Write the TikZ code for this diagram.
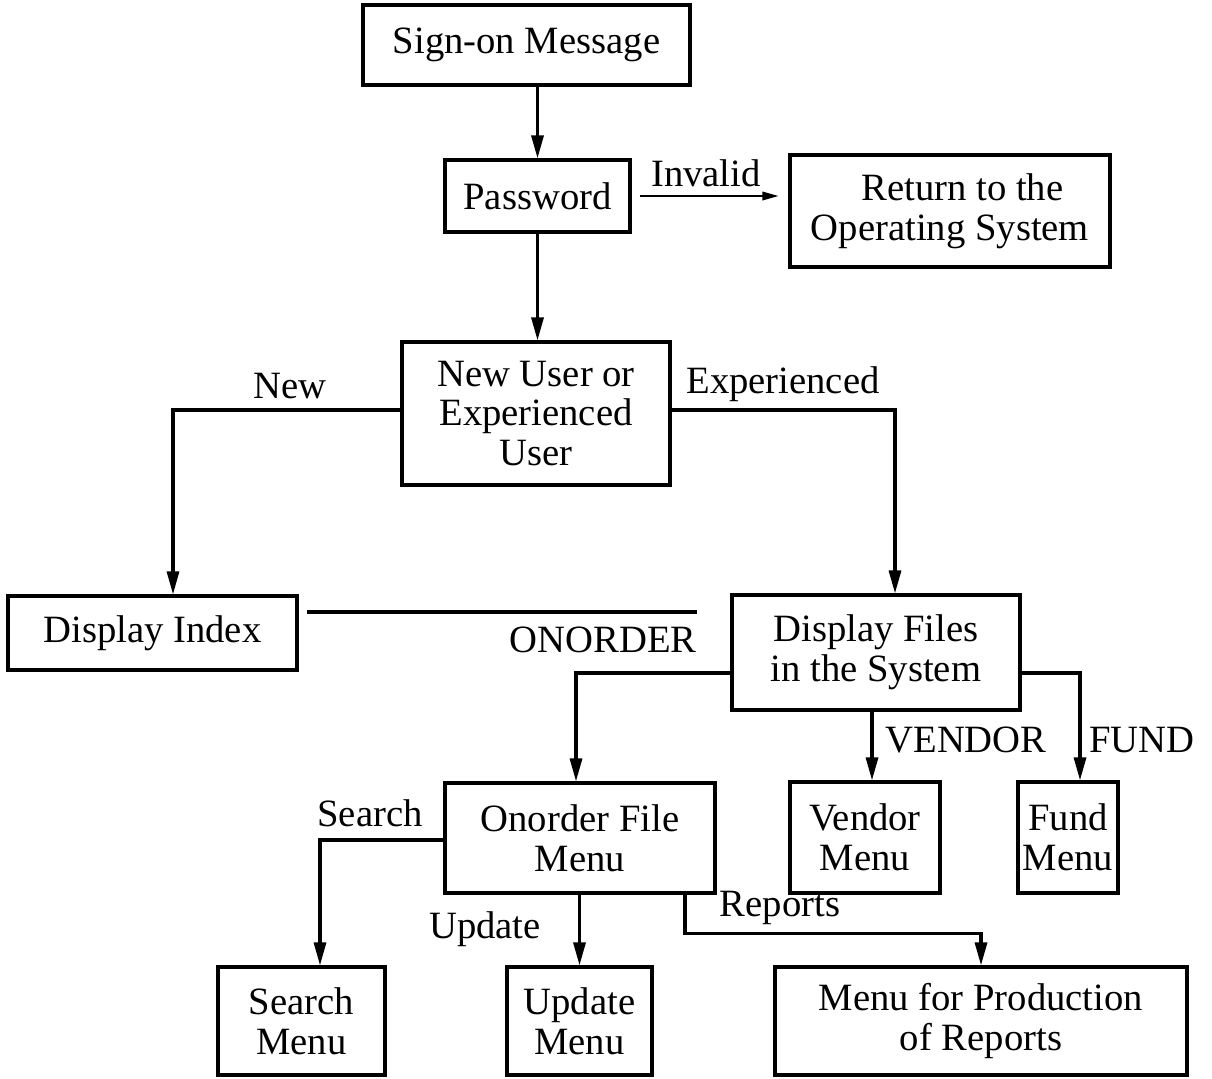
\documentclass[tikz,border=0pt]{standalone}
\usepackage{fontspec}
\setmainfont{Liberation Serif}
\usetikzlibrary{arrows.meta,calc}
\begin{document}
\begin{tikzpicture}[x=0.02cm,y=-0.02cm,
  box/.style={draw,line width=1.8pt,align=center,inner sep=0pt,font=\fontsize{22}{22.5}\selectfont},
  lbl/.style={font=\fontsize{22}{22.5}\selectfont,inner sep=0pt},
  ln/.style={line width=1.8pt},
  arr/.style={line width=1.8pt,-{Triangle[length=0.46cm,width=0.24cm]}},
  thinarr/.style={line width=1pt,-{Triangle[length=0.32cm,width=0.17cm]}}]
\useasboundingbox (0,0) rectangle (1212,1078);
% boxes
\node[box,minimum width=6.54cm,minimum height=1.6cm] (sign) at (526.5,45) {Sign-on Message};
\node[box,minimum width=3.7cm,minimum height=1.44cm] (pass) at (537.5,196) {Password};
\node[box,minimum width=6.4cm,minimum height=2.24cm] (ret) at (950,211) {\hspace*{0.5cm}Return to the\\Operating System};
\node[box,minimum width=5.36cm,minimum height=2.86cm] (user) at (536,413.5) {New User or\\Experienced\\User};
\node[box,minimum width=5.78cm,minimum height=1.48cm] (idx) at (152.5,633) {Display Index};
\node[box,minimum width=5.76cm,minimum height=2.3cm] (files) at (876,652.5) {Display Files\\in the System};
\node[box,minimum width=5.4cm,minimum height=2.2cm] (onord) at (580,838) {Onorder File\\Menu};
\node[box,minimum width=3.0cm,minimum height=2.22cm] (vend) at (865,837.5) {Vendor\\Menu};
\node[box,minimum width=2.0cm,minimum height=2.22cm] (fund) at (1068,837.5) {Fund\\Menu};
\node[box,minimum width=3.34cm,minimum height=2.16cm] (search) at (301.5,1021) {Search\\Menu};
\node[box,minimum width=2.9cm,minimum height=2.16cm] (upd) at (579.5,1021) {Update\\Menu};
\node[box,minimum width=8.24cm,minimum height=2.16cm] (rep) at (981,1021) {Menu for Production\\of Reports};
% connectors
\draw[arr] (sign.south -| pass.north) -- (pass.north);
\draw[thinarr] ([xshift=0.16cm]pass.east) -- ([xshift=-0.2cm]ret.west |- pass.east);
\draw[arr] (pass.south) -- (pass.south |- user.north);
\draw[arr] ([yshift=0.07cm]user.west) -| ([xshift=0.41cm]idx.north);
\draw[arr] ([yshift=0.07cm]user.east) -| ([xshift=0.38cm]files.north);
\draw[ln] ([shift={(8,-21)}]idx.east) -- ++(390,0);
\draw[arr] ([yshift=-0.41cm]files.west) -| ([xshift=-0.08cm]onord.north);
\draw[arr] ([xshift=-0.08cm]files.south) -- ([xshift=-0.08cm]files.south |- vend.north);
\draw[arr] ([yshift=-0.41cm]files.east) -| ([xshift=0.24cm]fund.north);
\draw[arr] ([yshift=-0.04cm]onord.west) -| ([xshift=0.37cm]search.north);
\draw[arr] (onord.south -| upd.north) -- (upd.north);
\draw[arr] ([xshift=2.1cm]onord.south) -- ++(0,39) -| (rep.north);
% labels
\node[lbl] (linv) at (706,173) {Invalid};
\node[lbl] (lnew) at (290,386) {New};
\node[lbl] (lexp) at (783,384) {Experienced};
\node[lbl] (lono) at (603,640) {ONORDER};
\node[lbl] (lven) at (966,740) {VENDOR};
\node[lbl] (lfun) at (1142,740) {FUND};
\node[lbl] (lsea) at (370,813) {Search};
\node[lbl] (lupd) at (485,929) {Update};
\node[lbl] (lrep) at (780,908) {Reports};
\end{tikzpicture}
\end{document}
